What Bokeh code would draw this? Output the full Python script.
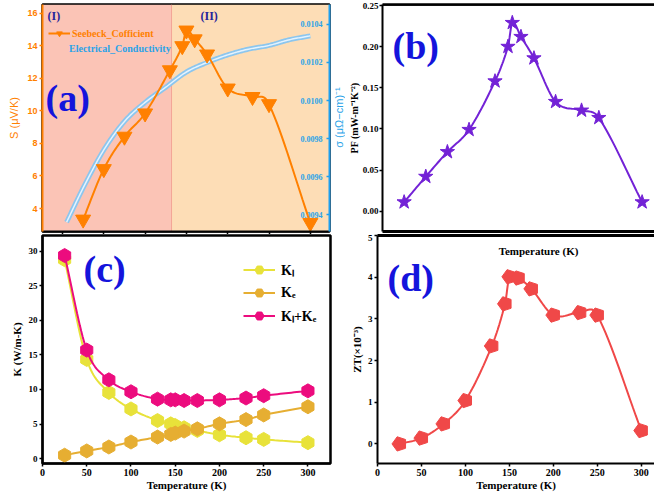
import numpy as np
from bokeh.plotting import figure
from bokeh.layouts import column, row
from bokeh.models import (Range1d, LinearAxis, Label, Legend, LegendItem,
                          BoxAnnotation, FixedTicker, Span)
from bokeh.embed import file_html
from bokeh.resources import INLINE
from bokeh.core.properties import value

# ---------------- data ----------------
temps = [25, 50, 75, 100, 130, 145, 150, 160, 175, 200, 230, 250, 300]
seebeck = [3.33, 6.43, 8.42, 9.85, 12.5, 13.98, 14.94, 14.4, 13.47, 11.38, 10.86, 10.42, 3.12]
sigma_T = [5, 25, 50, 75, 100, 125, 150, 175, 200, 225, 250, 275, 300]
sigma = [0.00936, 0.00954, 0.00974, 0.00989, 0.00999, 0.01007, 0.01015,
         0.01020, 0.01024, 0.01027, 0.01029, 0.01032, 0.01034]
pf = [0.011, 0.042, 0.072, 0.099, 0.158, 0.200, 0.229, 0.212, 0.186, 0.133, 0.1225, 0.1135, 0.011]
kl = [28.8, 14.35, 9.57, 7.18, 5.5, 5.02, 4.78, 4.45, 4.07, 3.44, 3.01, 2.77, 2.3]
ke = [0.48, 1.1, 1.67, 2.39, 3.11, 3.49, 3.68, 3.97, 4.3, 5.02, 5.64, 6.31, 7.5]
ktot = [29.4, 15.7, 11.4, 9.67, 8.6, 8.5, 8.5, 8.4, 8.4, 8.5, 8.76, 9.1, 9.8]
zt = [0.0, 0.14, 0.48, 1.04, 2.35, 3.36, 4.01, 3.98, 3.72, 3.09, 3.15, 3.09, 0.32]
region_split = 132
x_ticks = [0, 50, 100, 150, 200, 250, 300]
s_ticks = [4, 6, 8, 10, 12, 14, 16]
sig_ticks = [0.0094, 0.0096, 0.0098, 0.0100, 0.0102, 0.0104]
sig_tick_labels = ["0.0094", "0.0096", "0.0098", "0.0100", "0.0102", "0.0104"]
pf_ticks = [0.0, 0.05, 0.10, 0.15, 0.20, 0.25]
pf_tick_labels = {0.0: "0.00", 0.05: "0.05", 0.10: "0.10", 0.15: "0.15", 0.20: "0.20", 0.25: "0.25"}
k_ticks = [0, 5, 10, 15, 20, 25, 30]
zt_ticks = [0, 1, 2, 3, 4, 5]

SERIF = "Liberation Serif"
SANS = "Liberation Sans"
ORANGE = "#FF8000"
BLUE = "#1E9FEF"
BLUE_TXT = "#2AA3E8"
SALMON = "#FBC4B6"
LORANGE = "#FDDDB6"
LABEL_BLUE = "#1414DC"
PURPLE = "#7322D6"
RED = "#F04848"
YELLOW = "#E8E23A"
GOLD = "#E6AE32"
MAGENTA = "#EC0C7E"


def smooth(xs, ys, n=16):
    x = np.asarray(xs, float)
    y = np.asarray(ys, float)
    m = np.zeros_like(y)
    m[1:-1] = (y[2:] - y[:-2]) / (x[2:] - x[:-2])
    m[0] = (y[1] - y[0]) / (x[1] - x[0])
    m[-1] = (y[-1] - y[-2]) / (x[-1] - x[-2])
    X, Y = [], []
    t = np.linspace(0, 1, n, endpoint=False)
    h00 = 2 * t**3 - 3 * t**2 + 1
    h10 = t**3 - 2 * t**2 + t
    h01 = -2 * t**3 + 3 * t**2
    h11 = t**3 - t**2
    for i in range(len(x) - 1):
        h = x[i + 1] - x[i]
        X.extend(x[i] + t * h)
        Y.extend(h00 * y[i] + h10 * h * m[i] + h01 * y[i + 1] + h11 * h * m[i + 1])
    X.append(x[-1])
    Y.append(y[-1])
    return X, Y


def style_axis(ax, color="black", font=SERIF, tick_size="9px", title_size="11px",
               label_standoff=2, title_standoff=2, tick_out=3, tick_in=0):
    ax.axis_line_color = color
    ax.axis_line_width = 2
    ax.major_tick_line_color = color
    ax.major_tick_line_width = 1.5
    ax.major_tick_out = tick_out
    ax.major_tick_in = tick_in
    ax.minor_tick_line_color = None
    ax.major_label_text_font = font
    ax.major_label_text_font_style = "bold"
    ax.major_label_text_font_size = tick_size
    ax.major_label_text_color = color
    ax.major_label_standoff = label_standoff
    ax.axis_label_text_font = font
    ax.axis_label_text_font_style = "bold"
    ax.axis_label_text_font_size = title_size
    ax.axis_label_text_color = color
    ax.axis_label_standoff = title_standoff


def hide_labels(ax):
    ax.major_label_text_font_size = "1px"
    ax.major_label_text_color = None
    ax.major_label_standoff = 0


def base_fig(**kw):
    p = figure(output_backend="svg", toolbar_location=None, **kw)
    p.xgrid.visible = False
    p.ygrid.visible = False
    p.border_fill_color = "white"
    p.background_fill_color = "white"
    return p


# ---------------- panel (a) ----------------
fa = base_fig(width=345, height=234, x_range=Range1d(-24.2, 323.2), y_range=Range1d(2.59, 16.53),
              min_border_left=42, min_border_right=16, min_border_top=4, min_border_bottom=2)
fa.extra_y_ranges = {"sig": Range1d(0.009311, 0.010505)}
fa.outline_line_color = "black"
fa.outline_line_width = 2.5
fa.add_layout(BoxAnnotation(right=region_split, fill_color=SALMON, fill_alpha=1, line_color=None, level="underlay"))
fa.add_layout(BoxAnnotation(left=region_split, fill_color=LORANGE, fill_alpha=1, line_color=None, level="underlay"))
fa.add_layout(Span(location=region_split, dimension="height", line_color="#F3A595", line_width=1, level="underlay"))

fa.yaxis.ticker = FixedTicker(ticks=s_ticks)
fa.yaxis.axis_label = "S (μV/K)"
style_axis(fa.yaxis[0], color=ORANGE, font=SANS, tick_size="9px", title_size="11px", title_standoff=4)
fa.yaxis.axis_label_text_font_style = "normal"
fa.xaxis.ticker = FixedTicker(ticks=x_ticks)
style_axis(fa.xaxis[0], color="black")
hide_labels(fa.xaxis[0])

ax_sig = LinearAxis(y_range_name="sig", ticker=FixedTicker(ticks=sig_ticks))
style_axis(ax_sig, color=BLUE, font=SANS, tick_out=0, tick_in=3)
hide_labels(ax_sig)
fa.add_layout(ax_sig, "right")
fa.add_layout(Label(x=9, y=114, x_units="screen", y_units="screen", text="σ (μΩ−cm)⁻¹",
                    angle=float(np.pi / 2), text_font=SANS, text_font_size="11px",
                    text_color=BLUE_TXT, text_align="center", text_baseline="middle"), "right")

fa.text(x=[fa.x_range.end] * len(sig_ticks), y=sig_ticks, text=sig_tick_labels, y_range_name="sig",
        text_align="right", text_baseline="middle", x_offset=-7,
        text_font=value(SERIF), text_font_style="bold", text_font_size="8px", text_color=BLUE_TXT)

sx, sy = smooth(sigma_T, sigma)
fa.line(sx, sy, y_range_name="sig", line_color="#8CC6EE", line_width=5)
fa.line(sx, sy, y_range_name="sig", line_color="#E4F3FF", line_width=1.5)
sig_leg = fa.scatter([], [], y_range_name="sig", marker="circle", size=4,
                     fill_color="#E8F2FA", line_color="#B8D4EA")

bx, by = smooth(temps, seebeck)
l_s = fa.line(bx, by, line_color=ORANGE, line_width=2)
m_s = fa.scatter(temps, seebeck, marker="inverted_triangle", size=15, fill_color=ORANGE, line_color=ORANGE)

leg1 = Legend(items=[LegendItem(label="Seebeck_Cofficient", renderers=[l_s, m_s])],
              location=(6, 191), glyph_width=22, glyph_height=14, label_height=14,
              label_standoff=2, padding=0, margin=0, spacing=0,
              background_fill_alpha=0, border_line_color=None,
              label_text_font=SERIF, label_text_font_style="bold", label_text_font_size="10px",
              label_text_color=ORANGE)
leg2 = Legend(items=[LegendItem(label="Electrical_Conductivity", renderers=[sig_leg])],
              location=(9, 176), glyph_width=14, glyph_height=14, label_height=14,
              label_standoff=4, padding=0, margin=0, spacing=0,
              background_fill_alpha=0, border_line_color=None,
              label_text_font=SERIF, label_text_font_style="bold", label_text_font_size="10px",
              label_text_color=BLUE_TXT)
fa.add_layout(leg1)
fa.add_layout(leg2)

fa.add_layout(Label(x=3, y=134, x_units="screen", y_units="screen", text="(a)",
                    text_font=SERIF, text_font_style="bold", text_font_size="38px",
                    text_color=LABEL_BLUE, text_baseline="middle"))
fa.add_layout(Label(x=5, y=216, x_units="screen", y_units="screen", text="(I)",
                    text_font=SERIF, text_font_style="bold", text_font_size="12px",
                    text_color="#24249C", text_baseline="middle"))
fa.add_layout(Label(x=158, y=216, x_units="screen", y_units="screen", text="(II)",
                    text_font=SERIF, text_font_style="bold", text_font_size="12px",
                    text_color="#24249C", text_baseline="middle"))

# ---------------- panel (b) ----------------
fb = base_fig(width=309, height=234, x_range=Range1d(0, 314.3), y_range=Range1d(-0.0247, 0.2512),
              min_border_left=32, min_border_right=0, min_border_top=3, min_border_bottom=0)
fb.outline_line_color = None
fb.yaxis.ticker = FixedTicker(ticks=pf_ticks)
fb.yaxis.major_label_overrides = pf_tick_labels
fb.yaxis.axis_label = "PF (mW-m⁻¹K⁻²)"
style_axis(fb.yaxis[0], tick_size="9px", title_size="10px", label_standoff=1, title_standoff=0)
fb.xaxis.ticker = FixedTicker(ticks=[])
style_axis(fb.xaxis[0], tick_out=0)
hide_labels(fb.xaxis[0])
fb.xaxis.axis_line_width = 3
top_b = LinearAxis(ticker=FixedTicker(ticks=[]))
style_axis(top_b, tick_out=0)
hide_labels(top_b)
top_b.axis_line_width = 2.5
fb.add_layout(top_b, "above")
fb.add_layout(Span(location=fb.y_range.end, dimension="width", line_color="black", line_width=2.5))

px, py = smooth(temps, pf)
fb.line(px, py, line_color=PURPLE, line_width=2)
fb.scatter(temps, pf, marker="star", size=15, fill_color=PURPLE, line_color=PURPLE)
fb.add_layout(Label(x=10, y=186, x_units="screen", y_units="screen", text="(b)",
                    text_font=SERIF, text_font_style="bold", text_font_size="38px",
                    text_color=LABEL_BLUE, text_baseline="middle"))

# ---------------- panel (c) ----------------
fc = base_fig(width=345, height=269, x_range=Range1d(0, 325.5), y_range=Range1d(-0.72, 32.3),
              min_border_left=42, min_border_right=15, min_border_top=1, min_border_bottom=38)
fc.outline_line_color = "black"
fc.outline_line_width = 2.5
fc.xaxis.ticker = FixedTicker(ticks=x_ticks)
fc.xaxis.axis_label = "Temperature (K)"
style_axis(fc.xaxis[0], tick_size="10px", title_size="11px", label_standoff=2, title_standoff=0)
fc.yaxis.ticker = FixedTicker(ticks=k_ticks)
fc.yaxis.axis_label = "K (W/m-K)"
style_axis(fc.yaxis[0], tick_size="9px", title_size="11px", label_standoff=2, title_standoff=3)

rend = {}
for name, vals, col in [("Kₗ", kl, YELLOW), ("Kₑ", ke, GOLD), ("Kₗ+Kₑ", ktot, MAGENTA)]:
    cx, cy = smooth(temps, vals)
    ln = fc.line(cx, cy, line_color=col, line_width=2)
    mk = fc.scatter(temps, vals, marker="hex", size=14, angle=np.pi / 6,
                    fill_color=col, line_color=col)
    rend[name] = [ln, mk]
leg_c = Legend(items=[LegendItem(label=k, renderers=v) for k, v in rend.items()],
               location=(201, 136), glyph_width=32, glyph_height=23, label_height=23,
               label_standoff=6, padding=0, margin=0, spacing=0,
               background_fill_alpha=0, border_line_color=None,
               label_text_font=SERIF, label_text_font_style="bold", label_text_font_size="14px",
               label_text_color="black")
fc.add_layout(leg_c)
fc.add_layout(Label(x=41, y=195, x_units="screen", y_units="screen", text="(c)",
                    text_font=SERIF, text_font_style="bold", text_font_size="38px",
                    text_color=LABEL_BLUE, text_baseline="middle"))

# ---------------- panel (d) ----------------
fd = base_fig(width=309, height=269, x_range=Range1d(0, 315), y_range=Range1d(-0.47, 5.0),
              min_border_left=32, min_border_right=0, min_border_top=0, min_border_bottom=40)
fd.outline_line_color = None
fd.xaxis.ticker = FixedTicker(ticks=x_ticks)
fd.xaxis.axis_label = "Temperature (K)"
style_axis(fd.xaxis[0], tick_size="10px", title_size="11px", label_standoff=2, title_standoff=0)
fd.yaxis.ticker = FixedTicker(ticks=zt_ticks)
fd.yaxis.axis_label = "ZT(×10⁻³)"
style_axis(fd.yaxis[0], tick_size="9px", title_size="11px", label_standoff=2, title_standoff=2)
top_d = LinearAxis(ticker=FixedTicker(ticks=[]))
style_axis(top_d, tick_out=0)
hide_labels(top_d)
top_d.axis_line_width = 3
fd.add_layout(top_d, "above")

dx, dy = smooth(temps, zt)
fd.line(dx, dy, line_color=RED, line_width=2)
if hasattr(fd, "ngon"):
    fd.ngon(x=temps, y=zt, radius=7.5, radius_units="screen", n=5, angle=np.pi / 2,
            fill_color=RED, line_color=RED)
else:
    fd.scatter(temps, zt, marker="hex", size=14, fill_color=RED, line_color=RED)
fd.add_layout(Label(x=161, y=213, x_units="screen", y_units="screen", text="Temperature (K)",
                    text_font=SERIF, text_font_style="bold", text_font_size="11px",
                    text_color="black", text_align="center", text_baseline="middle"))
fd.add_layout(Label(x=10, y=186, x_units="screen", y_units="screen", text="(d)",
                    text_font=SERIF, text_font_style="bold", text_font_size="38px",
                    text_color=LABEL_BLUE, text_baseline="middle"))

layout = column(row(fa, fb), row(fc, fd))
open("out.html", "w").write(file_html(layout, INLINE))
